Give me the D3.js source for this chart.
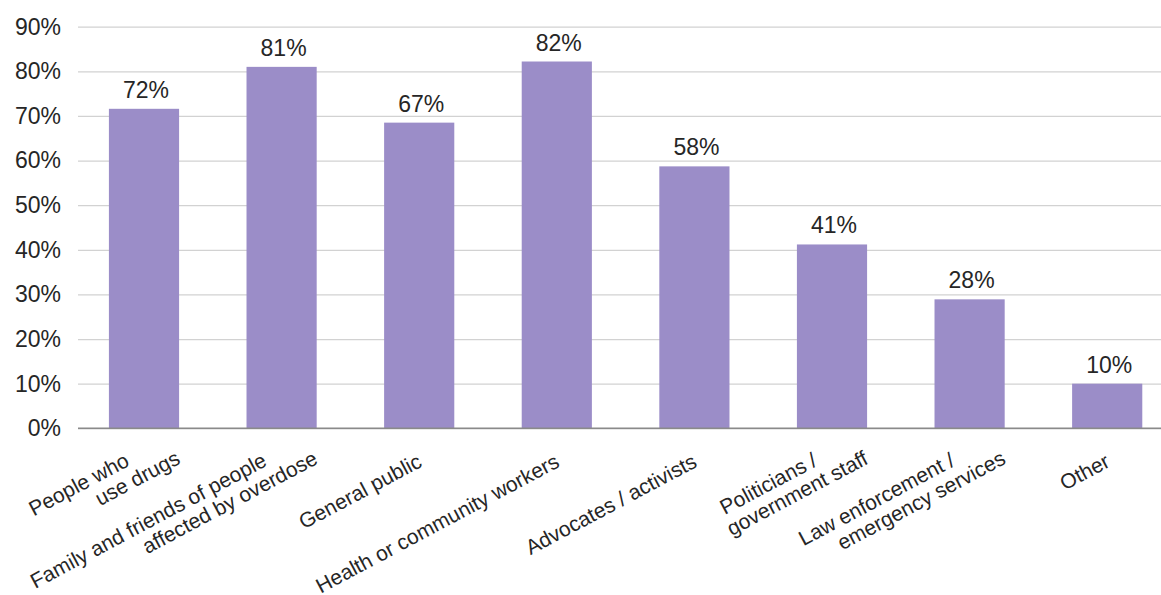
<!DOCTYPE html>
<html>
<head>
<meta charset="utf-8">
<script src="https://cdn.jsdelivr.net/npm/d3@7"></script>
<style>
  html, body { margin: 0; padding: 0; background: #ffffff; }
  svg { display: block; font-family: "Liberation Sans", Arial, Helvetica, sans-serif; }
</style>
</head>
<body>
<svg id="chart" width="1161" height="595"></svg>
<script>
// ---- data ----
const categories = [
  ["People who", "use drugs"],
  ["Family and friends of people", "affected by overdose"],
  ["General public"],
  ["Health or community workers"],
  ["Advocates / activists"],
  ["Politicians /", "government staff"],
  ["Law enforcement /", "emergency services"],
  ["Other"]
];
const barValues = [71.6, 81, 68.5, 82.2, 58.7, 41.2, 28.9, 10];
const valueLabels = ["72%", "81%", "67%", "82%", "58%", "41%", "28%", "10%"];
const yTicks = [0, 10, 20, 30, 40, 50, 60, 70, 80, 90];
const yTickLabels = ["0%", "10%", "20%", "30%", "40%", "50%", "60%", "70%", "80%", "90%"];

// ---- layout ----
const W = 1161, H = 595;
const svg = d3.select("#chart");
const ids = categories.map((d, i) => i);

const x = d3.scaleBand().domain(ids).range([75.2, 1176]).paddingInner(0.49).paddingOuter(0.245);
const y = d3.scaleLinear().domain([0, 90]).range([428.3, 26.7]);
const gridLeft = 78;

// grid + y-axis labels
const yAxis = d3.axisLeft(y)
  .tickValues(yTicks)
  .tickFormat((d, i) => yTickLabels[i])
  .tickSize(-(W - gridLeft))
  .tickPadding(17);

const gy = svg.append("g").attr("transform", `translate(${gridLeft},0)`).call(yAxis);
gy.select(".domain").remove();
gy.selectAll(".tick line").attr("stroke", "#d2d2d2").attr("stroke-width", 1.3);
gy.selectAll(".tick text")
  .attr("font-size", 23)
  .attr("fill", "#262626")
  .attr("font-family", "'Liberation Sans', Arial, sans-serif");

// bars
svg.append("g").selectAll("rect")
  .data(barValues)
  .join("rect")
  .attr("x", (d, i) => x(i))
  .attr("width", x.bandwidth())
  .attr("y", d => y(d))
  .attr("height", d => y(0) - y(d))
  .attr("fill", "#9b8dc8");

// baseline
svg.append("line")
  .attr("x1", gridLeft).attr("x2", W)
  .attr("y1", y(0)).attr("y2", y(0))
  .attr("stroke", "#8a8a8a").attr("stroke-width", 1.5);

// value labels
svg.append("g").selectAll("text")
  .data(barValues)
  .join("text")
  .attr("x", (d, i) => x(i) + x.bandwidth() / 2 + 2)
  .attr("y", d => y(d) - 11)
  .attr("text-anchor", "middle")
  .attr("font-size", 23)
  .attr("fill", "#262626")
  .text((d, i) => valueLabels[i]);

// category labels (rotated)
const angle = -28;
const lg = svg.append("g").selectAll("g")
  .data(categories)
  .join("g")
  .attr("transform", (d, i) => `translate(${x(i) + x.bandwidth() / 2 + 4},466) rotate(${angle})`);

lg.each(function(lines) {
  const g = d3.select(this);
  lines.forEach((t, j) => {
    const multi = lines.length > 1;
    const ax = multi ? (j === 0 ? -15 : 31) : 0;
    const ay = multi ? (j === 0 ? -9 : 13) : 0;
    g.append("text")
      .attr("x", ax)
      .attr("y", ay)
      .attr("text-anchor", "end")
      .attr("font-size", 21)
      .attr("fill", "#262626")
      .text(t);
  });
});
</script>
</body>
</html>
